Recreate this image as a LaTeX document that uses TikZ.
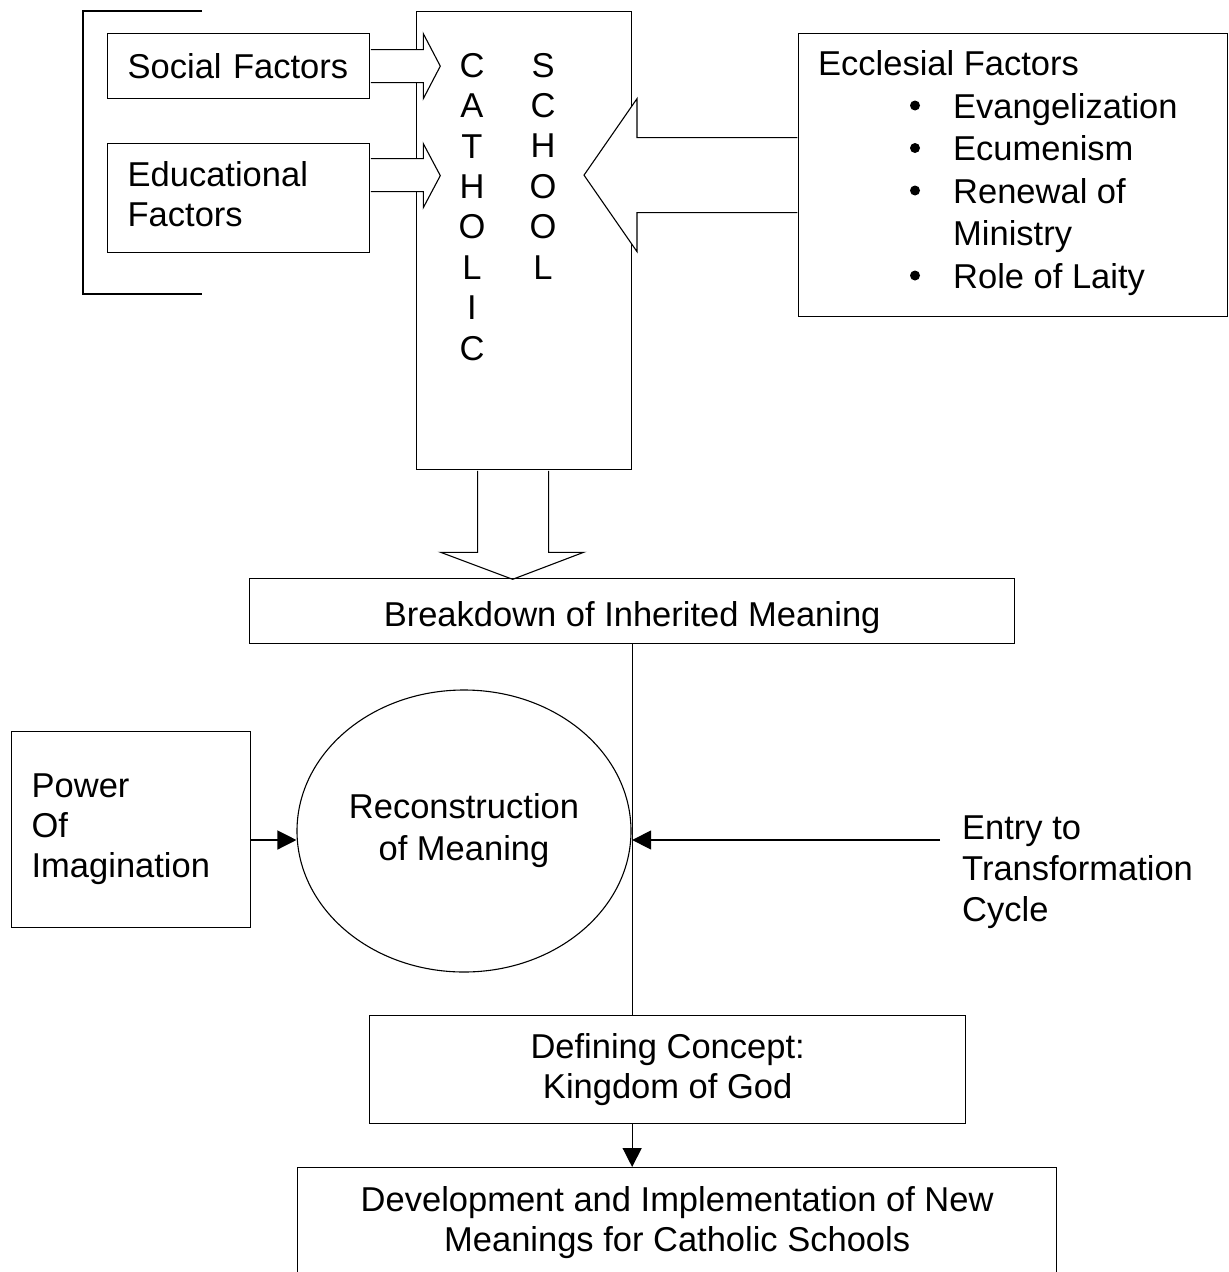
\documentclass[tikz,border=0pt]{standalone}
\usepackage{fontspec}
\setmainfont{Liberation Sans}
\usetikzlibrary{arrows.meta,shapes.geometric,calc}

\begin{document}
\begin{tikzpicture}[x=1pt,y=-1pt,
  font=\fontsize{34.5}{41}\selectfont,
  outline/.style={draw, line width=1.3pt},
  box/.style={outline, rectangle, inner sep=0pt},
  leftbox/.style={box, align=left, inner xsep=20pt, inner ysep=0pt},
  plaintext/.style={inner sep=0pt},
  blockarrow/.style={draw, fill=white, line width=1.1pt, line join=miter},
  flow/.style={line width=1.3pt, -{Triangle[length=19pt,width=19pt]}},
]
\path[use as bounding box, fill=white] (0,0) rectangle (1229,1272);
\clip (0,0) rectangle (1229,1272);

% bracket grouping the social and educational factors
\draw[line width=1.3pt] (202,11) -- (83,11) -- (83,294) -- (202,294);

% factor boxes on the left
\node[leftbox, anchor=north west, text width=222pt, minimum width=262pt,
      minimum height=65pt] (social) at (107,33) {Social Factors};
\node[leftbox, anchor=north west, text width=222pt, minimum width=262pt,
      minimum height=109pt, font=\fontsize{34.5}{40}\selectfont] (educ) at (107,143)
      {Educational\\Factors\rule[-8pt]{0pt}{8pt}};

% the Catholic school column
\node[box, anchor=north west, minimum width=215pt, minimum height=458pt] (school) at (416,11) {};
\node[plaintext, align=center, font=\fontsize{34.5}{40.4}\selectfont] (cathword) at (472,206.8)
      {C\\A\\T\\H\\O\\L\\I\\C};
\node[plaintext, align=center, font=\fontsize{34.5}{40.4}\selectfont] (schoolword) at (543,166)
      {S\\C\\H\\O\\O\\L};

% ecclesial factors
\node[box, anchor=north west, minimum width=429pt, minimum height=283pt] (eccl) at (798,33) {};
\node[plaintext, anchor=base west] (eccltitle) at (818,75) {Ecclesial Factors};
\node[plaintext, anchor=north west, align=left, font=\fontsize{34.5}{42.5}\selectfont]
      (eccllist) at (953,93) {Evangelization\\Ecumenism\\Renewal of\\Ministry\\Role of Laity};
\foreach \yy in {105.5,148,190.5,275.5} \fill (915,\yy) circle (5pt);

% block arrows into the school column
\path[blockarrow] ($(social.east)+(0.65,-16.5)$) -- ++(52.35,0) -- ++(0,-16)
      -- ++(17,32.5) -- ++(-17,32.5) -- ++(0,-16) -- ++(-52.35,0);
\path[blockarrow] ($(educ.east)+(0.65,-39.5)$) -- ++(52.35,0) -- ++(0,-15)
      -- ++(17,32) -- ++(-17,32) -- ++(0,-16) -- ++(-52.35,0);
\path[blockarrow] ($(eccl.west)+(-0.65,-37.5)$) -- ++(-160.35,0) -- ++(0,-39)
      -- ++(-53,76.5) -- ++(53,76.5) -- ++(0,-39) -- ++(160.35,0);

% block arrow out of the school column
\path[blockarrow] ($(school.south)+(-46.5,0.65)$) -- ++(0,81.35) -- ++(-37,0)
      -- ++(72,27) -- ++(71,-27) -- ++(-35,0) -- ++(0,-81.35);

\node[box, anchor=north west, minimum width=765pt, minimum height=65pt] (breakdown) at (249,578)
      {\rule{0pt}{38pt}Breakdown of Inherited Meaning};

% reconstruction stage
\node[leftbox, anchor=north west, text width=199pt, minimum width=239pt,
      minimum height=196pt, font=\fontsize{34.5}{40}\selectfont] (power) at (11,731)
      {Power\\Of\\Imagination};
\node[outline, ellipse, line width=1.1pt, minimum width=334pt, minimum height=282pt,
      inner sep=0pt, align=center, font=\fontsize{34.5}{42}\selectfont] (recon) at (464,831)
      {Reconstruction\\of Meaning};
\coordinate (entrytail) at (940,840);
\node[plaintext, anchor=north west, align=left] (entry) at (962,815.6)
      {Entry to\\Transformation\\Cycle};

\node[box, anchor=north west, minimum width=596pt, minimum height=108pt, align=center,
      font=\fontsize{34.5}{40}\selectfont] (defining) at (369,1015)
      {Defining Concept:\\Kingdom of God};
\node[box, anchor=north west, minimum width=759pt, minimum height=110pt, align=center,
      font=\fontsize{34.5}{40}\selectfont] (develop) at (297,1167)
      {Development and Implementation of New\\Meanings for Catholic Schools};

% connectors
\draw[line width=1.3pt] (breakdown.south) -- (breakdown.south |- defining.north);
\draw[flow] (entrytail) -- (entrytail -| breakdown.south);
\draw[flow] (power.east |- entrytail) -- (recon.west |- entrytail);
\draw[flow] (defining.south -| breakdown.south) -- (develop.north -| breakdown.south);
\end{tikzpicture}
\end{document}
